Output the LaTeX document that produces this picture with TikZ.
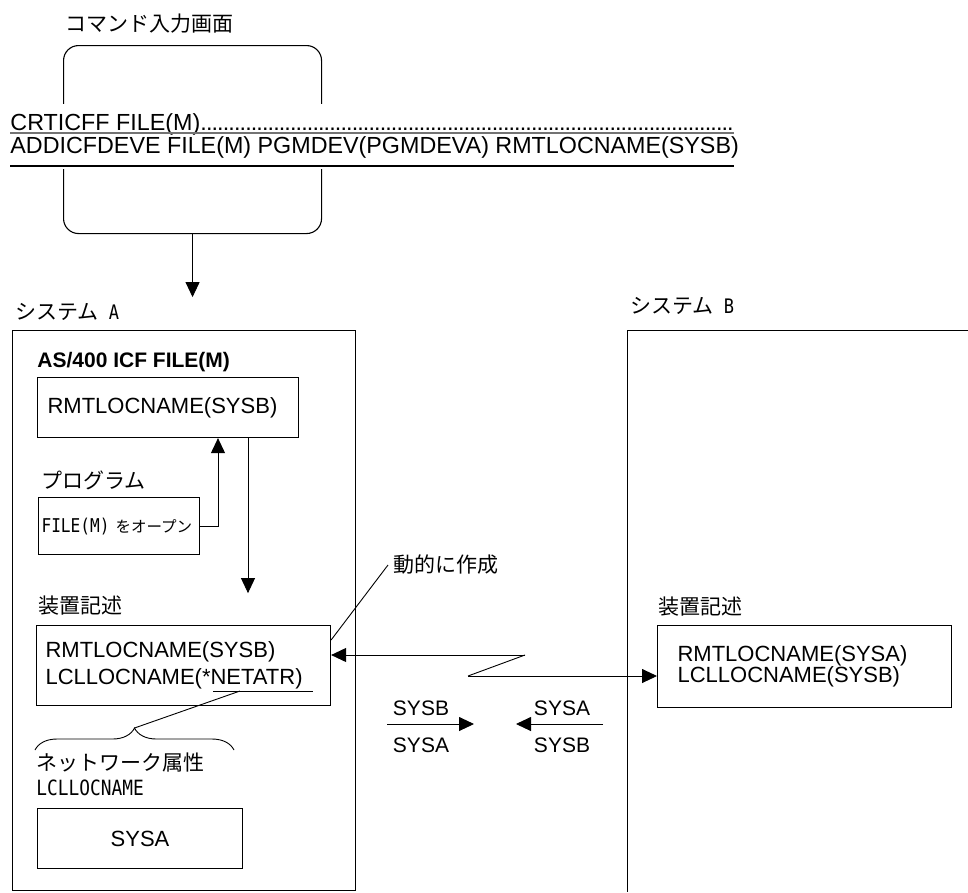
\documentclass[tikz,border=0pt]{standalone}
\usepackage{fontspec}
\setmainfont{Liberation Sans}
\newfontfamily\jpfont{Noto Sans CJK JP}
\newfontfamily\hankaku[FakeStretch=0.85]{DejaVu Sans Mono}
\usetikzlibrary{arrows.meta,decorations.pathreplacing}
\begin{document}
\begin{tikzpicture}[x=1pt,y=-1pt,line width=0.9pt,
    box/.style={draw,line width=1.1pt,rectangle,anchor=north west,inner sep=0pt},
    txt/.style={font=\fontsize{22}{27}\selectfont},
    jp/.style={font=\jpfont\fontsize{21}{25}\selectfont,inner sep=0pt,anchor=west},
    cmd/.style={font=\fontsize{23.3}{27}\selectfont,inner sep=0pt,anchor=base west},
    sys/.style={font=\fontsize{21}{25}\selectfont,inner sep=0pt},
    arr/.style={-{Triangle[length=15pt,width=14pt]}}]
  \useasboundingbox (0,0) rectangle (968,892);

  % command screen
  \node[jp] (cmdlabel) at (65,24) {コマンド入力画面};
  \node[box,rounded corners=15pt,minimum width=258pt,minimum height=188pt] (panel) at (63,45) {};
  \fill[white] (6,104) rectangle (742,169);
  \node[cmd] (crt) at (10,130)
    {\makebox[724pt][l]{CRTICFF FILE(M)\leaders\hbox to 5.6pt{\hss.\hss}\hfill}};
  \node[cmd] (add) at (10,153) {ADDICFDEVE FILE(M) PGMDEV(PGMDEVA) RMTLOCNAME(SYSB)};
  \draw[black!55,line width=2pt] (10,133) -- (734,133);
  \draw[line width=1.3pt] (10,166) -- (734,166);
  \draw[arr] (panel.south) -- ++(0,63);

  % system A
  \node[jp] (sysAlabel) at (15,312) {システム\hspace{10pt}{\hankaku\fontsize{20}{24}\selectfont A}};
  \node[box,minimum width=343pt,minimum height=560pt] (sysA) at (12,330) {};
  \node[font=\bfseries\fontsize{21}{25}\selectfont,inner sep=0pt,anchor=west] (icf) at (37,362) {AS/400 ICF FILE(M)};
  \node[box,txt,minimum width=261pt,minimum height=60pt,text width=241pt,inner xsep=10pt,align=left] (rmt) at (37,377) {RMTLOCNAME(SYSB)};
  \node[jp] (proglabel) at (41,480) {プログラム};
  \node[box,minimum width=161pt,minimum height=57pt,text width=155pt,inner xsep=3pt,align=left] (prog) at (38,497)
    {{\hankaku\fontsize{19}{22}\selectfont FILE(M)}\hspace{6pt}{\jpfont\fontsize{15.5}{18}\selectfont をオープン}};
  \draw[arr] (prog.east) -| ([xshift=181pt]rmt.south west);
  \draw[arr] ([xshift=211pt]rmt.south west) -- ++(0,155);

  \node[jp] (devlabelA) at (38,606) {装置記述};
  \node[box,font=\fontsize{22}{27}\selectfont,minimum width=294pt,minimum height=80pt,text width=276pt,inner xsep=9pt,align=left] (devA) at (36,625)
    {RMTLOCNAME(SYSB)\\LCLLOCNAME(*NETATR)};
  \coordinate (netL) at (213,691);
  \coordinate (netR) at (313,691);
  \coordinate (netpick) at (240,691);
  \draw (netL) -- (netR);
  \draw[decorate,decoration={brace,amplitude=22pt}] (35,750) -- (234,750);
  \coordinate (bracetip) at (134.5,728);
  \draw (netpick) -- (bracetip);
  \node[jp] (netlabel) at (36,763) {ネットワーク属性};
  \node[font=\hankaku\fontsize{21}{25}\selectfont,inner sep=0pt,anchor=west] (lclname) at (36,788) {LCLLOCNAME};
  \node[box,txt,minimum width=205pt,minimum height=60pt] (sysabox) at (37,808) {};
  \node[txt,inner sep=0pt] (sysatext) at (sysabox.center) {SYSA};

  % dynamically created
  \node[jp] (dynlabel) at (393,565) {動的に作成};
  \draw ([xshift=-5pt]dynlabel.west) -- ([yshift=-15pt]devA.north east);

  % system B
  \node[jp] (sysBlabel) at (630,306) {システム\hspace{10pt}{\hankaku\fontsize{20}{24}\selectfont B}};
  \coordinate (sysBcorner) at (627,330);
  \draw[line width=1pt] (968,330) -- (sysBcorner) -- (627,892);
  \node[jp] (devlabelB) at (658,607) {装置記述};
  \node[box,font=\fontsize{22}{21}\selectfont,minimum width=294pt,minimum height=82pt,text width=254pt,inner xsep=20pt,align=left] (devB) at (657,625)
    {RMTLOCNAME(SYSA)\\LCLLOCNAME(SYSB)};

  % link
  \coordinate (zigR) at (525,655);
  \coordinate (zigL) at (468,676);
  \draw[arr] (zigR) -- (devA.east |- zigR);
  \draw (zigR) -- (zigL);
  \draw[arr] (zigL) -- (devB.west |- zigL);

  % names exchanged
  \node[sys] (ltop) at (421,708) {SYSB};
  \node[sys] (lbot) at (421,745) {SYSA};
  \coordinate (lfrom) at (387,724);
  \coordinate (lto) at (474,724);
  \draw[arr] (lfrom) -- (lto);
  \node[sys] (rtop) at (562,708) {SYSA};
  \node[sys] (rbot) at (562,745) {SYSB};
  \coordinate (rfrom) at (603,724);
  \coordinate (rto) at (516,724);
  \draw[arr] (rfrom) -- (rto);
\end{tikzpicture}
\end{document}
